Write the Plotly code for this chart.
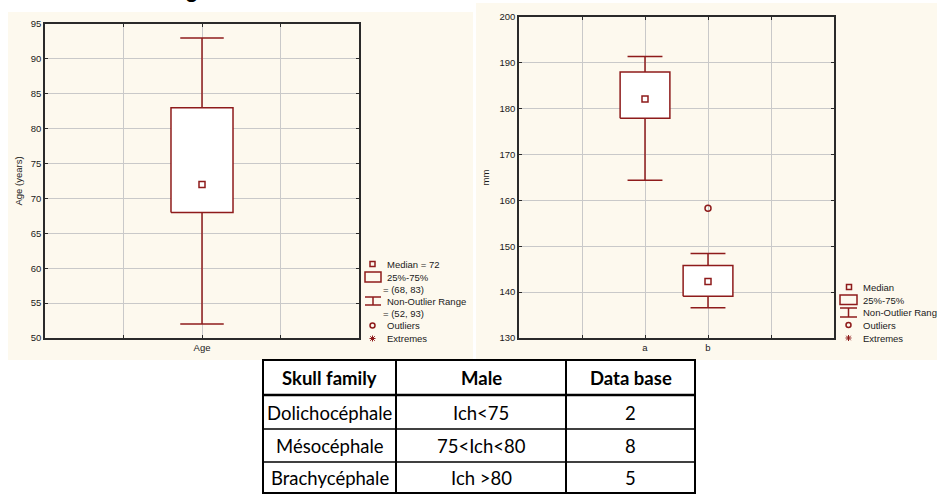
import plotly.graph_objects as go

# ---------------- data ----------------
age_category = ["Age"]
age_q1 = [68]
age_median = [72]
age_q3 = [83]
age_low = [52]
age_high = [93]
age_ticks = [50, 55, 60, 65, 70, 75, 80, 85, 90, 95]

mm_categories = ["a", "b"]
mm_q1 = [177.9, 139.1]
mm_median = [182.1, 142.3]
mm_q3 = [188.0, 145.8]
mm_low = [164.4, 136.6]
mm_high = [191.4, 148.4]
mm_outliers = [[], [158.3]]
mm_ticks = [130, 140, 150, 160, 170, 180, 190, 200]

table_header = ["Skull family", "Male", "Data base"]
skull_family = ["Dolichocéphale", "Mésocéphale", "Brachycéphale"]
male_range = ["Ich<75", "75<Ich<80", "Ich >80"]
data_base = ["2", "8", "5"]

# ---------------- style ----------------
W, H = 937, 494
RED = "#8E1B1B"
CREAM = "#FDF9EE"
FRAME = "#2a2a2a"
GRID = "#c9c9c9"
SMALL = dict(family="Liberation Sans, Arial, sans-serif", size=9.5, color="#1a1a1a")
TABLE_FONT = "Lato, Carlito, sans-serif"


def px(x):
    return x / W


def py(y):
    return 1 - y / H


fig = go.Figure()


def add_box(xa, ya, c, q1, med, q3, lo, hi, outs):
    bw, cw = 0.395, 0.277
    fig.add_trace(go.Scatter(
        x=[c, c, None, c, c, None, c - cw, c + cw, None, c - cw, c + cw],
        y=[lo, q1, None, q3, hi, None, lo, lo, None, hi, hi],
        mode="lines", line=dict(color=RED, width=1.5),
        xaxis=xa, yaxis=ya, showlegend=False, hoverinfo="skip"))
    fig.add_trace(go.Scatter(
        x=[c - bw, c + bw, c + bw, c - bw, c - bw],
        y=[q1, q1, q3, q3, q1],
        mode="lines", fill="toself", fillcolor="white",
        line=dict(color=RED, width=1.5),
        xaxis=xa, yaxis=ya, showlegend=False, hoverinfo="skip"))
    fig.add_trace(go.Scatter(
        x=[c], y=[med], mode="markers",
        marker=dict(symbol="square-open", size=6, color=RED, line=dict(width=1.5)),
        xaxis=xa, yaxis=ya, showlegend=False))
    if outs:
        fig.add_trace(go.Scatter(
            x=[c] * len(outs), y=outs, mode="markers",
            marker=dict(symbol="circle-open", size=6, color=RED, line=dict(width=1.5)),
            xaxis=xa, yaxis=ya, showlegend=False))


# left chart: Age at position 0
for i, cat in enumerate(age_category):
    add_box("x", "y", i, age_q1[i], age_median[i], age_q3[i], age_low[i], age_high[i], [])

# right chart: a, b at positions 2, 3
mm_pos = [i + 2 for i in range(len(mm_categories))]
for i, cat in enumerate(mm_categories):
    add_box("x2", "y2", mm_pos[i], mm_q1[i], mm_median[i], mm_q3[i], mm_low[i], mm_high[i], mm_outliers[i])

axis_common = dict(
    showline=True, linecolor=FRAME, linewidth=1.5, mirror="ticks",
    ticks="inside", ticklen=3, tickcolor=FRAME,
    showgrid=True, gridcolor=GRID, gridwidth=1, zeroline=False,
    tickfont=SMALL, fixedrange=True, automargin=False,
)

fig.update_layout(
    width=W, height=H,
    margin=dict(l=0, r=0, t=0, b=0, autoexpand=False),
    paper_bgcolor="white", plot_bgcolor="white",
    showlegend=False,
    xaxis=dict(axis_common, domain=[px(45), px(359)], range=[-2, 2],
               tickvals=[-1, 0, 1], ticktext=["", age_category[0], ""], anchor="y"),
    yaxis=dict(axis_common, domain=[py(338), py(24)], range=[50, 95],
               tickvals=age_ticks, anchor="x",
               title=dict(text="Age (years)", font=SMALL, standoff=6)),
    xaxis2=dict(axis_common, domain=[px(519), px(834)], range=[0, 5],
                tickvals=[1, 2, 3, 4], ticktext=["", mm_categories[0], mm_categories[1], ""], anchor="y2"),
    yaxis2=dict(axis_common, domain=[py(338), py(17)], range=[130, 200],
                tickvals=mm_ticks, anchor="x2",
                title=dict(text="mm", font=SMALL, standoff=8)),
)

shapes = []
# cream panels
shapes.append(dict(type="rect", xref="paper", yref="paper", x0=px(8), x1=px(473), y0=py(360), y1=py(12),
                   fillcolor=CREAM, line=dict(width=0), layer="below"))
shapes.append(dict(type="rect", xref="paper", yref="paper", x0=px(476), x1=px(937), y0=py(360), y1=py(3),
                   fillcolor=CREAM, line=dict(width=0), layer="below"))


def line(x0, y0, x1, y1, w=1.5, color=RED):
    shapes.append(dict(type="line", xref="paper", yref="paper", x0=px(x0), y0=py(y0), x1=px(x1), y1=py(y1),
                       line=dict(color=color, width=w)))


def rect(x0, y0, x1, y1, w=1.5, color=RED, fill="rgba(0,0,0,0)"):
    shapes.append(dict(type="rect", xref="paper", yref="paper", x0=px(x0), y0=py(y1), x1=px(x1), y1=py(y0),
                       line=dict(color=color, width=w), fillcolor=fill))


def circle(cx, cy, r=2.5):
    shapes.append(dict(type="circle", xref="paper", yref="paper", x0=px(cx - r), x1=px(cx + r),
                       y0=py(cy + r), y1=py(cy - r), line=dict(color=RED, width=1.5)))


def asterisk(cx, cy, r=3):
    line(cx, cy - r, cx, cy + r, 1)
    line(cx - r, cy, cx + r, cy, 1)
    line(cx - r * 0.75, cy - r * 0.75, cx + r * 0.75, cy + r * 0.75, 1)
    line(cx - r * 0.75, cy + r * 0.75, cx + r * 0.75, cy - r * 0.75, 1)


annotations = []


def text(x, y, s, anchor="left", font=SMALL):
    annotations.append(dict(xref="paper", yref="paper", x=px(x), y=py(y), text=s, showarrow=False,
                            xanchor=anchor, yanchor="middle", font=font))


# left legend
rect(370, 261.5, 375, 266.5)
text(385, 264, f"Median = {age_median[0]}")
rect(365, 272, 381, 282)
text(385, 277, "25%-75%")
text(381, 289, f"= ({age_q1[0]}, {age_q3[0]})")
line(365, 297, 381, 297)
line(373, 297, 373, 305)
line(365, 305, 381, 305)
text(385, 301.5, "Non-Outlier Range")
text(381, 313, f"= ({age_low[0]}, {age_high[0]})")
circle(372.5, 325.5)
text(385, 325.5, "Outliers")
asterisk(372.5, 338.5)
text(385, 338.5, "Extremes")

# right legend
rect(846.5, 284.5, 851.5, 289.5)
text(861, 287, "Median")
rect(840, 295, 857, 304.5)
text(861, 300, "25%-75%")
line(840, 308, 857, 308)
line(848.5, 308, 848.5, 317)
line(840, 317, 857, 317)
text(861, 312.5, "Non-Outlier Range")
circle(848.5, 325)
text(861, 325, "Outliers")
asterisk(848.5, 338)
text(861, 338, "Extremes")

# cropped heading at the very top (only the descender shows in the reference)
annotations.append(dict(xref="paper", yref="paper", x=px(190), y=py(-10.5), text="<b>Age</b>",
                        showarrow=False, xanchor="center", yanchor="middle",
                        font=dict(family="Liberation Sans, Arial", size=22, color="black")))

# ---------------- table (built from the lists) ----------------
col_edges = [263, 396, 566, 695]
row_edges = [360, 395, 429, 462, 493]
rows = [table_header] + [list(r) for r in zip(skull_family, male_range, data_base)]

rect(col_edges[0], row_edges[0], col_edges[-1], row_edges[-1], w=0, color="white", fill="white")
for ri, row in enumerate(rows):
    yc = (row_edges[ri] + row_edges[ri + 1]) / 2 + 0.5
    for ci, val in enumerate(row):
        xc = (col_edges[ci] + col_edges[ci + 1]) / 2
        s = f"<b>{val}</b>" if ri == 0 else val
        text(xc, yc, s, anchor="center", font=dict(family=TABLE_FONT, size=18.5, color="black"))
for yv in row_edges[1:-1]:
    line(col_edges[0], yv, col_edges[-1], yv, w=2.5 if yv == row_edges[1] else 1.5, color="black")
for xv in col_edges[1:-1]:
    line(xv, row_edges[0], xv, row_edges[-1], w=2, color="black")
rect(col_edges[0], row_edges[0], col_edges[-1], row_edges[-1], w=2, color="black")

fig.update_layout(shapes=shapes, annotations=annotations)

fig.write_html("out.html", config={"displayModeBar": False},
               post_script="document.body.style.margin='0px';document.body.style.overflow='hidden';")
